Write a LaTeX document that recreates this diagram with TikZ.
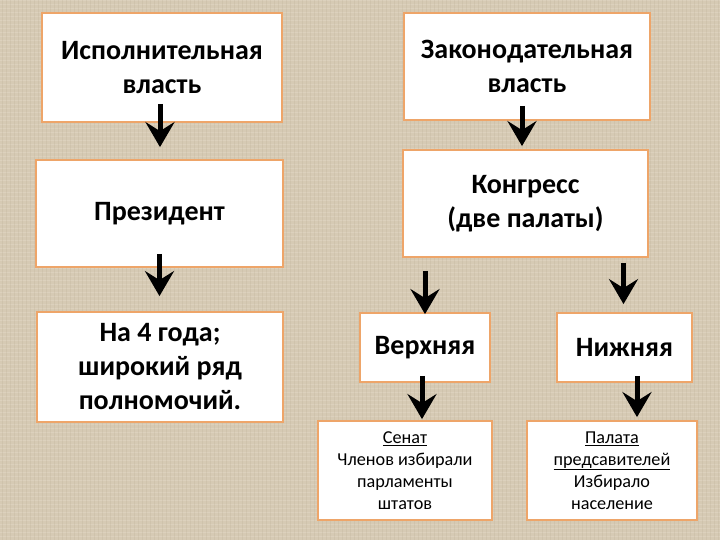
\documentclass[tikz,border=0pt]{standalone}
\usepackage{fontspec}
\setmainfont{Carlito}
\usetikzlibrary{arrows.meta,calc}
\definecolor{bg}{RGB}{214,202,180}
\definecolor{bgdark}{RGB}{190,176,152}
\definecolor{bglight}{RGB}{232,224,208}
\definecolor{edge}{RGB}{238,165,105}
\begin{document}
\begin{tikzpicture}[x=1pt,y=-1pt,
  box/.style={draw=edge,line width=1.8pt,fill=white,inner sep=0pt,align=center,
    font=\fontsize{28}{34}\selectfont\bfseries},
  smallbox/.style={box,font=\fontsize{18.2}{22}\selectfont},
  arr/.style={line width=5pt,-{Stealth[length=25pt,width=29pt,inset=9pt]}}]
\fill[bg] (0,0) rectangle (720,540);
\useasboundingbox (0,0) rectangle (720,540);
\foreach \i in {0,4,...,540} \draw[bglight,opacity=0.35,line width=0.8pt] (0,\i) -- (720,\i);
\foreach \i in {2,6,...,720} \draw[bgdark,opacity=0.25,line width=0.8pt] (\i,0) -- (\i,540);

\node[box,minimum width=240pt,minimum height=109pt] (exec) at (162,67.5) {Исполнительная\\власть};
\node[box,minimum width=246pt,minimum height=107pt] (legis) at (527,66.5) {Законодательная\\власть};
\node[box,minimum width=247pt,minimum height=107pt] (pres) at (159.5,213.5) {Президент};
\node[box,minimum width=245pt,minimum height=107pt] (congress) at (525.5,203.5) {Конгресс\\(две палаты)};
\node[box,minimum width=246pt,minimum height=110pt] (term) at (160,367) {На 4 года;\\широкий ряд\\полномочий.};
\node[box,minimum width=130pt,minimum height=69pt] (upper) at (425,347.5) {Верхняя};
\node[box,minimum width=135pt,minimum height=69pt] (lower) at (624.5,347.5) {Нижняя};
\node[smallbox,minimum width=174pt,minimum height=99pt] (senate) at (405,470.5) {\underline{Сенат}\\Членов избирали\\парламенты\\штатов};
\node[smallbox,minimum width=170pt,minimum height=99pt] (house) at (612,470.5) {\underline{Палата}\\\underline{предсавителей}\\Избирало\\население};

\draw[arr] ($(exec.south)+(-2,-19)$) -- ($(exec.south|-pres.north)+(-2,-12)$);
\draw[arr] ($(legis.south)+(-5,-15)$) -- ($(legis.south|-congress.north)+(-5,-3)$);
\draw[arr] ($(pres.south)+(0,-14)$) -- ($(pres.south|-term.north)+(0,-15)$);
\draw[arr] ($(upper.north|-congress.south)+(0,13)$) -- ($(upper.north)+(0,2)$);
\draw[arr] ($(lower.north|-congress.south)+(-1,5)$) -- ($(lower.north)+(-1,-8)$);
\draw[arr] ($(upper.south)+(-3,-7)$) -- ($(upper.south|-senate.north)+(-3,-1)$);
\draw[arr] ($(lower.south)+(12.5,-7)$) -- ($(lower.south|-house.north)+(12.5,-3)$);
\end{tikzpicture}
\end{document}
